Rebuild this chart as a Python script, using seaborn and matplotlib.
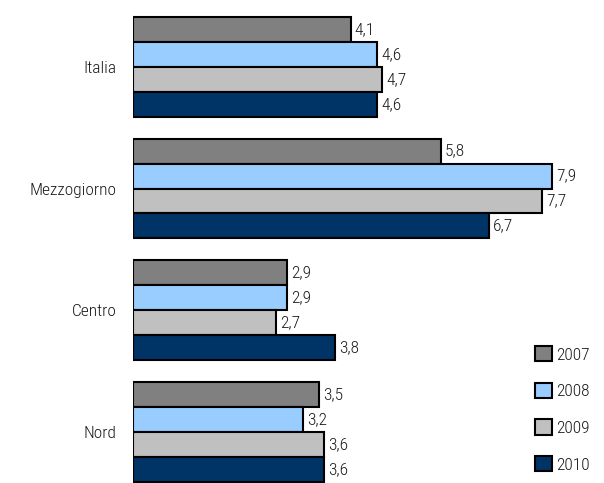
import matplotlib
matplotlib.use("Agg")
import matplotlib.pyplot as plt
import seaborn as sns
import pandas as pd
from matplotlib import font_manager

categories = ["Italia", "Mezzogiorno", "Centro", "Nord"]
years = ["2007", "2008", "2009", "2010"]
v2007 = [4.1, 5.8, 2.9, 3.5]
v2008 = [4.6, 7.9, 2.9, 3.2]
v2009 = [4.7, 7.7, 2.7, 3.6]
v2010 = [4.6, 6.7, 3.8, 3.6]
colors = ["#808080", "#99CCFF", "#C0C0C0", "#003366"]

sns.set_theme(style="white")

# pick a condensed/narrow font if one is installed
prefs = ["LiberationSansNarrow-Regular", "RobotoCondensed-Light", "Roboto_Condensed-Light",
         "RobotoCondensed-Regular", "Roboto_Condensed-Regular",
         "OpenSans_Condensed-Regular", "OpenSansCondensed", "DejaVuSansCondensed.ttf"]
fpath = None
files = [f.fname for f in font_manager.fontManager.ttflist]
for p in prefs:
    for f in files:
        if p in f:
            fpath = f
            break
    if fpath:
        break
if fpath:
    fp = font_manager.FontProperties(fname=fpath, size=12.5)
else:
    fp = font_manager.FontProperties(family="Liberation Sans", size=11)
plt.rcParams["font.family"] = ["Liberation Sans", "DejaVu Sans"]

rows = []
for yr, vals in zip(years, [v2007, v2008, v2009, v2010]):
    for c, v in zip(categories, vals):
        rows.append({"cat": c, "year": yr, "val": v})
df = pd.DataFrame(rows)

fig = plt.figure(figsize=(6.04, 4.83), dpi=100)
ax = fig.add_axes([133 / 604, 0.0, (600 - 133) / 604, 1 - 6 / 483])
sns.barplot(data=df, y="cat", x="val", hue="year", order=categories, hue_order=years,
            palette=colors, orient="h", width=0.82, edgecolor="black", linewidth=1.5,
            saturation=1, errorbar=None, ax=ax)
ax.set_xlim(0, 8.8)
ax.set_ylim(3.42, -0.5)
for cont in ax.containers:
    labels = [f"{w:.1f}".replace(".", ",") for w in cont.datavalues]
    txts = ax.bar_label(cont, labels=labels, padding=3, color="#1a1a1a")
    for t in txts:
        t.set_fontproperties(fp)
for s in ax.spines.values():
    s.set_visible(False)
ax.set_xticks([])
ax.set_xlabel("")
ax.set_ylabel("")
ax.tick_params(axis="y", length=0, pad=12)
for t in ax.get_yticklabels():
    t.set_color("#1a1a1a")
    t.set_fontproperties(fp)
leg = ax.legend(loc="lower right", bbox_to_anchor=(1.0, 0.0), frameon=False, prop=fp,
                handlelength=1.0, handleheight=1.0, labelspacing=1.15, handletextpad=0.2,
                borderaxespad=0.2)
for h in leg.legend_handles:
    h.set_edgecolor("black")
    h.set_linewidth(1.5)
for t in leg.get_texts():
    t.set_color("#1a1a1a")
fig.savefig("out.png", dpi=100)
